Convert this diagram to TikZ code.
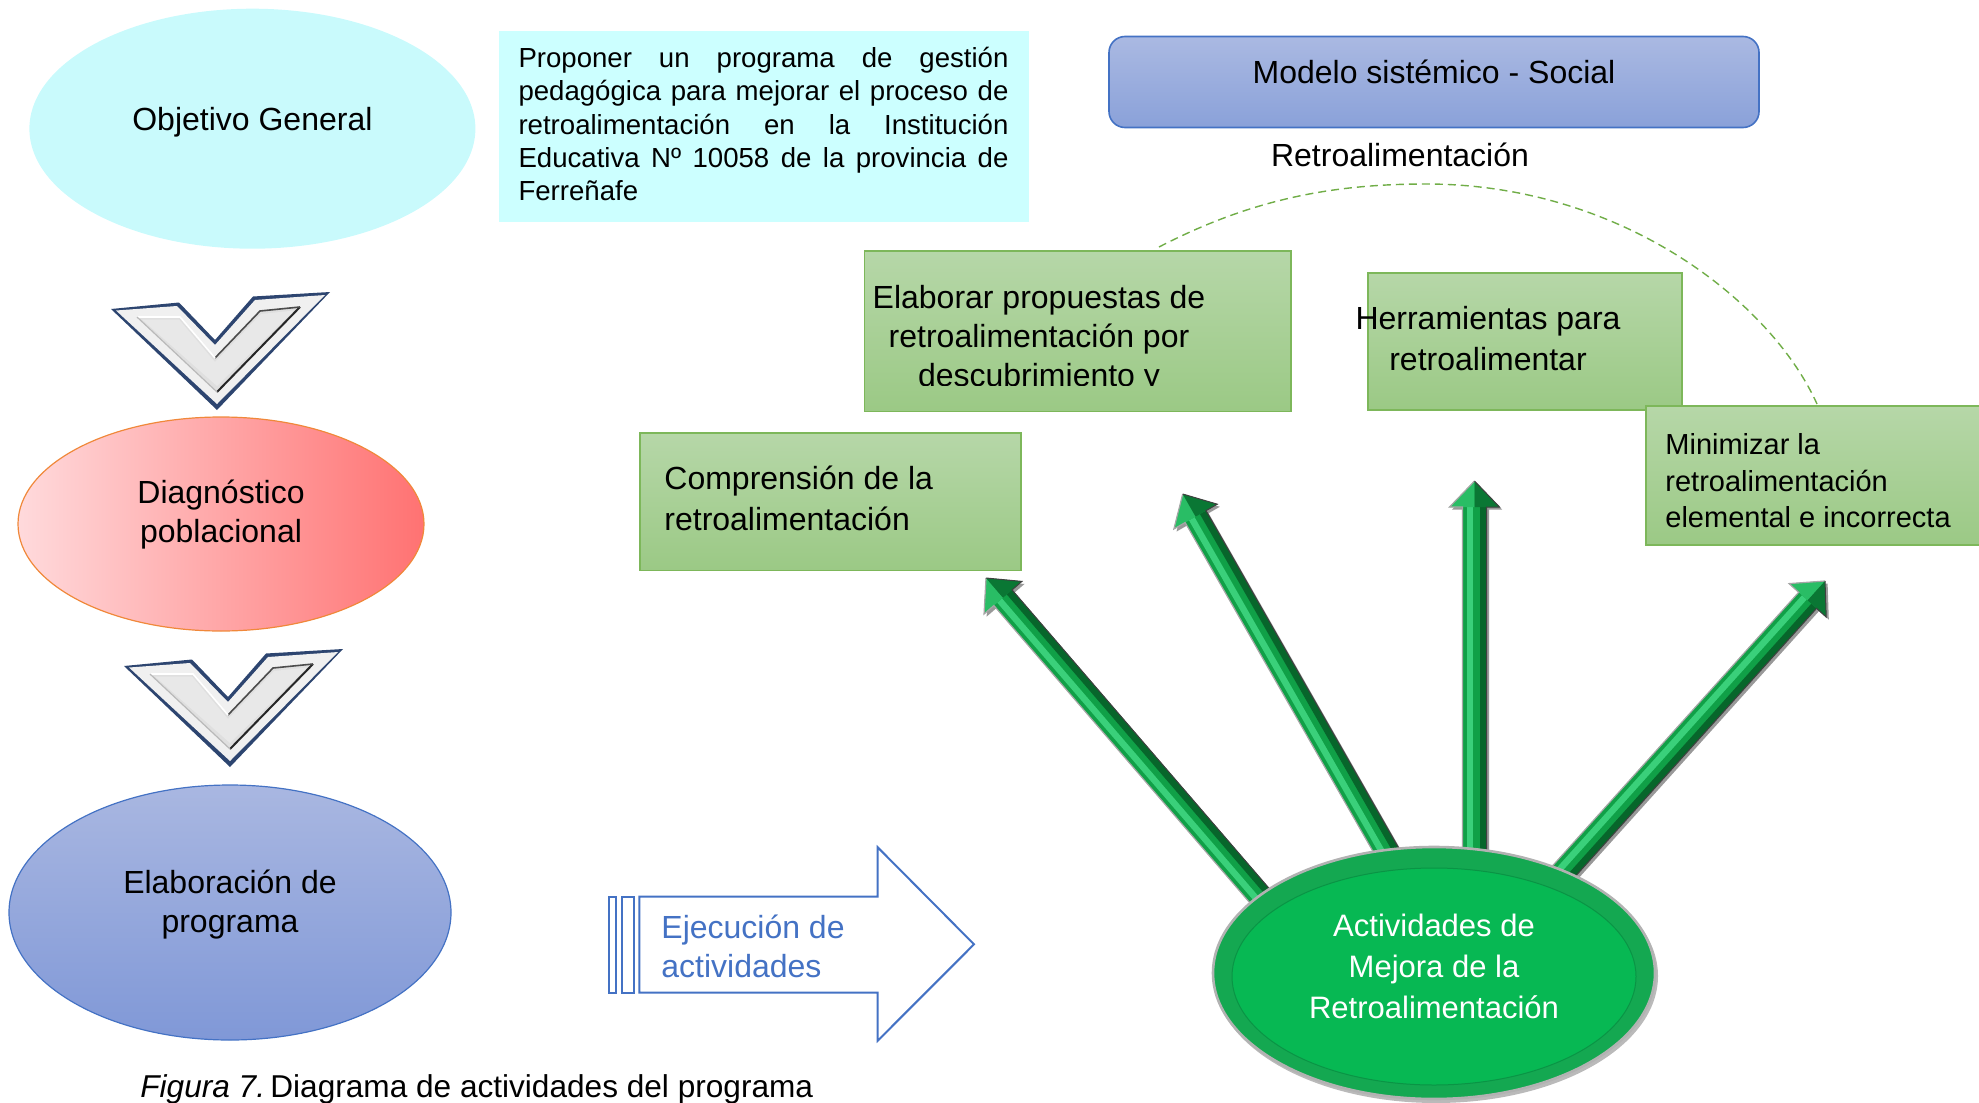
\documentclass[tikz,border=0pt]{standalone}
\usepackage{fontspec}
\setmainfont{Liberation Sans}
\usetikzlibrary{shapes.geometric,calc}
\definecolor{objC}{HTML}{C9FAFC}
\definecolor{cyanB}{HTML}{CCFFFF}
\definecolor{modT}{HTML}{AAB9E2}
\definecolor{modB}{HTML}{8AA1D9}
\definecolor{blueD}{HTML}{4472C4}
\definecolor{gbT}{HTML}{B6D7A8}
\definecolor{gbB}{HTML}{9BC985}
\definecolor{gbD}{HTML}{7DB75A}
\definecolor{pinkL}{HTML}{FFDADC}
\definecolor{pinkR}{HTML}{FF7272}
\definecolor{orangeD}{HTML}{F0883A}
\definecolor{eblT}{HTML}{A9B7E1}
\definecolor{eblB}{HTML}{8098D7}
\definecolor{gdark}{HTML}{07662B}
\definecolor{gmid}{HTML}{10A047}
\definecolor{glight}{HTML}{3AD07A}
\definecolor{gell}{HTML}{07B853}
\definecolor{gellD}{HTML}{0A9445}
\definecolor{gRim}{HTML}{14A851}
\definecolor{dashG}{HTML}{70AD47}
\definecolor{chevD}{HTML}{2D4570}
\tikzset{
  txt/.style={font=\fontsize{16}{19.5}\selectfont, align=center, inner sep=0pt},
  gbox/.style={top color=gbT, bottom color=gbB, draw=gbD, line width=0.9pt, inner sep=0pt},
  chev/.pic={
    \fill[chevD] (111,309) -- (179,302.5) -- (215,340) -- (253,296.5) -- (330,292) -- (217,410) -- cycle;
    \fill[gray!12] (116,310.5) -- (177,306) -- (215,345) -- (255,300) -- (325,295) -- (217,404) -- cycle;
    \fill[gray!25] (137,317) -- (180,317) -- (215,358) -- (260,311) -- (300,307) -- (217,392) -- cycle;
    \fill[gray!18] (142,319.5) -- (179,319.5) -- (215,362) -- (261,314) -- (294,310.5) -- (217,386) -- cycle;
    \draw[black!85, line width=1pt] (300,307) -- (217,392);
    \draw[black!70, line width=0.8pt] (215,358) -- (260,311) -- (300,307);
    \draw[white, line width=0.8pt] (137,317) -- (180,317) -- (215,358);
    \draw[gray!55, line width=0.6pt] (137,317) -- (217,392);
  }
}
\newcommand\garrow[2]{%
  \coordinate (gN) at ($(#2)!13pt!(#1)$);
  \coordinate (gA) at ($(#1)!6pt!90:(#2)$);
  \coordinate (gB) at ($(gN)!6pt!90:(#2)$);
  \coordinate (gC) at ($(gN)!12.5pt!90:(#2)$);
  \coordinate (gD) at ($(gN)!12.5pt!-90:(#2)$);
  \coordinate (gE) at ($(gN)!6pt!-90:(#2)$);
  \coordinate (gF) at ($(#1)!6pt!-90:(#2)$);
  \coordinate (gE2) at ($(gN)!2.5pt!-90:(#2)$);
  \coordinate (gF2) at ($(#1)!2.5pt!-90:(#2)$);
  \coordinate (gA2) at ($(#1)!3.8pt!90:(#2)$);
  \coordinate (gA3) at ($(#1)!0.6pt!90:(#2)$);
  \coordinate (gB2) at ($(gN)!3.8pt!90:(#2)$);
  \coordinate (gB3) at ($(gN)!0.6pt!90:(#2)$);
  \fill[black!80, opacity=.5, transform canvas={shift={(1.3pt,-1.3pt)}}] (gA) -- (gB) -- (gC) -- (#2) -- (gD) -- (gE) -- (gF) -- cycle;
  \fill[gmid] (gA) -- (gB) -- (gC) -- (#2) -- (gD) -- (gE) -- (gF) -- cycle;
  \fill[gdark] (gE2) -- (gE) -- (gF) -- (gF2) -- cycle;
  \fill[glight] (gA2) -- (gB2) -- (gB3) -- (gA3) -- cycle;
  \fill[glight!60!gmid] (gN) -- (#2) -- (gC) -- cycle;
  \fill[gdark!70!gmid] (gN) -- (#2) -- (gD) -- cycle;
  \draw[gray!70, line width=0.6pt] (gA) -- (gB) -- (gC) -- (#2);
  \draw[black!75, line width=0.5pt] (#2) -- (gD) -- (gE) -- (gF);
}
\begin{document}
\begin{tikzpicture}[x=0.5pt,y=-0.5pt]
\useasboundingbox (0,0) rectangle (1979,1102);

% ---- left column ----
\node[ellipse, fill=objC, minimum width=223pt, minimum height=120pt, inner sep=0pt] (obj) at (252.4,128.7) {};
\node[txt] (objt) at (252.4,122.5) {Objetivo General};

\pic at (0,0) {chev};
\pic at (13,357) {chev};

\node[ellipse, left color=pinkL, right color=pinkR, draw=orangeD, line width=0.6pt, minimum width=203pt, minimum height=107pt, inner sep=0pt] (diag) at (221,524) {};
\node[txt] (diagt) at (221,514.5) {Diagnóstico\\poblacional};

\node[ellipse, top color=eblT, bottom color=eblB, draw=blueD, line width=0.6pt, minimum width=221pt, minimum height=127.5pt, inner sep=0pt] (elab) at (230,912.5) {};
\node[txt] (elabt) at (230,905) {Elaboración de\\programa};

% ---- objective text box ----
\node[fill=cyanB, minimum width=265pt, minimum height=95.25pt, inner sep=0pt] (obox) at (763.5,126.75) {};
\node[text width=245pt, inner sep=0pt, align=justify, font=\fontsize{13.8}{16.6}\selectfont] (oboxt) at (763.5,124)
  {Proponer un programa de gestión\linebreak pedagógica para mejorar el proceso de\linebreak retroalimentación en la Institución\linebreak Educativa Nº 10058 de la provincia de\linebreak Ferreñafe};

% ---- model box ----
\node[rounded corners=8pt, top color=modT, bottom color=modB, draw=blueD, line width=0.8pt, minimum width=325pt, minimum height=45.5pt, inner sep=0pt] (mod) at (1434,82) {};
\node[txt] (modt) at (1434,72) {Modelo sistémico - Social};
\node[txt] (retro) at (1400,155) {Retroalimentación};

% ---- dashed arc ----
\coordinate (d1) at (1159,247);
\coordinate (d2) at (1817,404);
\draw[dashG, line width=0.7pt, dash pattern=on 4pt off 2.5pt] (d1) .. controls (1250,200) and (1330,184) .. (1426,184) .. controls (1620,184) and (1770,300) .. (d2);

% ---- green boxes ----
\node[gbox, minimum width=213.25pt, minimum height=80.25pt] (b1) at (1077.75,331.25) {};
\begin{scope}
  \clip (864,240) rectangle (1292,385);
  \node[txt] (b1t) at (1039,339.5) {Elaborar propuestas de\\retroalimentación por\\descubrimiento y};
\end{scope}
\node[gbox, minimum width=157pt, minimum height=68.7pt] (b2) at (1525,341.3) {};
\node[txt, font=\fontsize{16}{20.5}\selectfont] (b2t) at (1488,339) {Herramientas para\\retroalimentar};
\node[gbox, minimum width=190.5pt, minimum height=68.75pt] (b3) at (830.5,501.75) {};
\node[txt, font=\fontsize{16}{20.5}\selectfont, anchor=west, align=left] (b3t) at (664,498.5) {Comprensión de la\\retroalimentación};
\node[gbox, minimum width=177pt, minimum height=69.5pt] (b4) at (1823,475.5) {};
\node[txt, font=\fontsize{14.5}{18.3}\selectfont, anchor=west, align=left] (b4t) at (1665,481) {Minimizar la\\retroalimentación\\elemental e incorrecta};

% ---- execution block arrow ----
\draw[blueD, line width=1pt] (609.3,896.7) rectangle (616,992.7);
\draw[blueD, line width=1pt] (621.7,896.7) rectangle (634.3,992.7);
\draw[blueD, line width=1pt] (639.3,896.7) -- (877.7,896.7) -- (877.7,847.3) -- (974,944.3) -- (877.7,1040.7) -- (877.7,992.7) -- (639.3,992.7) -- cycle;
\node[txt, font=\fontsize{16}{19.5}\selectfont, text=blueD, anchor=west, align=left] (ejec) at (661,946.5) {Ejecución de\\actividades};

% ---- green arrows ----
\coordinate (s1) at (1281.6,921.3); \coordinate (t1) at (986,578);
\coordinate (s2) at (1401.8,877.7); \coordinate (t2) at (1182.7,494);
\coordinate (s3) at (1474.5,875);   \coordinate (t3) at (1474.5,481);
\coordinate (s4) at (1535.2,903);   \coordinate (t4) at (1825,581);
\garrow{s1}{t1}
\garrow{s2}{t2}
\garrow{s3}{t3}
\garrow{s4}{t4}

% ---- central ellipse ----
\fill[black!60, opacity=.45] (1436,976) ellipse [x radius=222, y radius=127];
\node[ellipse, fill=gRim, draw=gray!60, line width=1.3pt, minimum width=221pt, minimum height=126pt, inner sep=0pt] (act) at (1434,973) {};
\node[ellipse, fill=gell, draw=gellD, line width=0.5pt, minimum width=202pt, minimum height=108.5pt, inner sep=0pt] (acti) at (1434,976.5) {};
\node[txt, font=\fontsize{15.5}{20.5}\selectfont, text=white] (actt) at (1434,966) {Actividades de\\Mejora de la\\Retroalimentación};

% ---- caption ----
\node[anchor=base west, inner sep=0pt, font=\fontsize{15.8}{19}\selectfont] (cap) at (140,1097) {\textit{Figura 7.}\,Diagrama de actividades del programa};
\end{tikzpicture}
\end{document}
